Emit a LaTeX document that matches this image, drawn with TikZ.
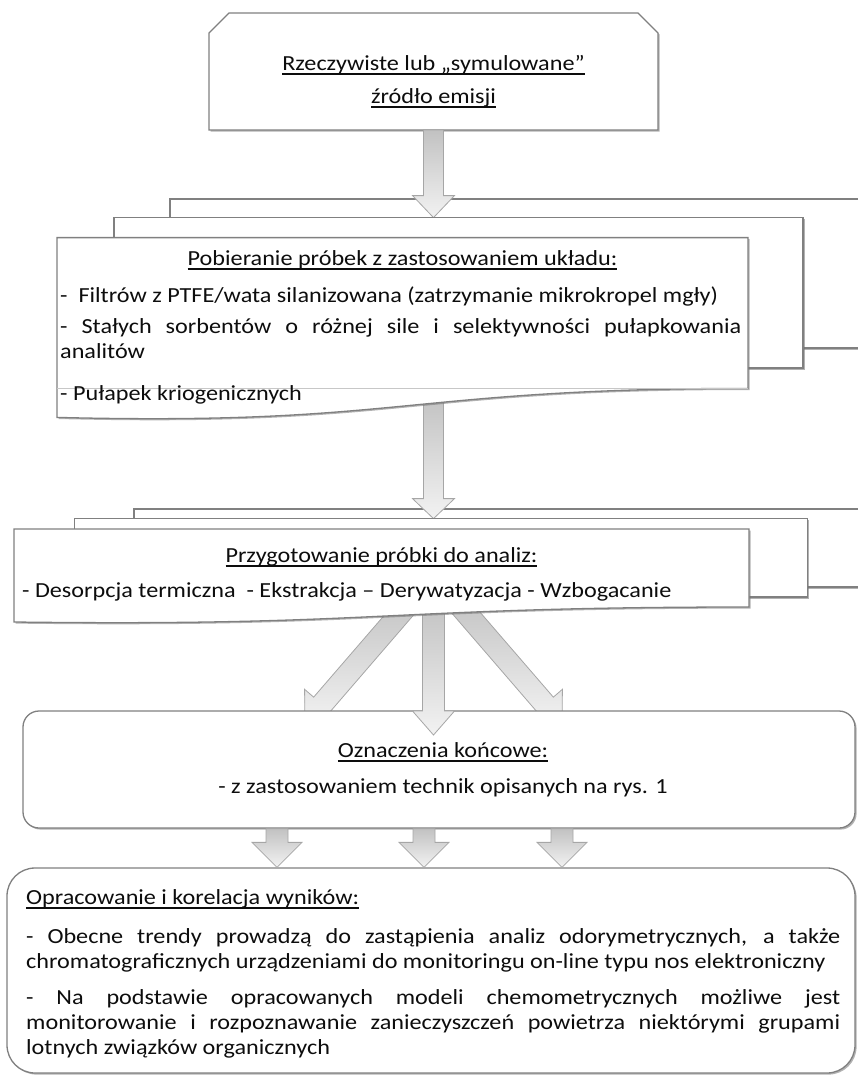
\documentclass[tikz,border=0pt]{standalone}
\usepackage{fontspec}
\setmainfont{Carlito}[FakeStretch=1.125]
\usetikzlibrary{calc,shadows}
\newcommand\undl[1]{\leavevmode\setbox0=\hbox{#1}\rlap{\rule[-4.5pt]{\wd0}{1.2pt}}\box0}
% block arrow: #1 from, #2 to, #3 half shaft, #4 half head, #5 head length
\newcommand\blockarrow[5]{%
  \path (#1) coordinate (bas) (#2) coordinate (bae);
  \path ($(bae)!#5!(bas)$) coordinate (bah);
  \draw[bigarrow] ($(bas)!#3!90:(bae)$) -- ($(bah)!#3!90:(bae)$) -- ($(bah)!#4!90:(bae)$)
    -- (bae) -- ($(bah)!#4!-90:(bae)$) -- ($(bah)!#3!-90:(bae)$) -- ($(bas)!#3!-90:(bae)$) -- cycle;}
\tikzset{
  txt/.style={inner sep=0pt, font=\fontsize{21.5}{25}\selectfont, text=black!95},
  doc/.style={draw=black!50, line width=1.3pt, fill=white,
    drop shadow={shadow xshift=1.6pt, shadow yshift=-1.6pt, fill=black!55, opacity=.55}},
  faint/.style={draw=black!22, line width=0.5pt},
  bigarrow/.style={draw=black!35, line width=0.8pt, top color=black!24, bottom color=black!5},
  anchorbox/.style={inner sep=0pt, outer sep=0pt}
}
\begin{document}
\begin{tikzpicture}[x=1pt,y=-1pt]
\useasboundingbox (0,0) rectangle (857,1079);
% back documents
\filldraw[doc] (170,199) rectangle (864,348);
\filldraw[doc] (134,509) rectangle (868,587);
% source box
\node[anchorbox, minimum width=449pt, minimum height=117pt] (src) at (433.5,71.5) {};
\filldraw[doc] (src.south west) -- ($(src.north west)+(0,20)$) -- ($(src.north west)+(20,0)$)
  -- ($(src.north east)+(-20,0)$) -- ($(src.north east)+(0,20)$) -- (src.south east) -- cycle;
% arrow end points
\coordinate (a1e) at (433.5,217.6);
\coordinate (a2s) at (433.5,395);
\coordinate (a2e) at (433.5,518.6);
\coordinate (a3s) at (433.5,600);
\coordinate (a3sl) at (412,600);
\coordinate (a3sr) at (455,600);
\coordinate (a3le) at (305,724);
\coordinate (a3re) at (562,724);
\coordinate (a3ce) at (433.5,735);
\blockarrow{src.south}{a1e}{10pt}{21pt}{22pt}
\blockarrow{a2s}{a2e}{10pt}{21pt}{20pt}
\blockarrow{a3sl}{a3le}{11pt}{23pt}{26pt}
\blockarrow{a3sr}{a3re}{11pt}{23pt}{26pt}
% determination box
\node[doc, rounded corners=16pt, minimum width=832pt, minimum height=117pt] (ozn) at (439,769.5) {};
\blockarrow{a3s}{a3ce}{11pt}{21pt}{24pt}
% middle and front documents
\filldraw[doc] (114,217.6) rectangle (803,368);
\filldraw[doc] (74.5,518.6) rectangle (807.5,597);
\filldraw[doc] (57,237.6) -- (748,237.6) -- (748,388.4) .. controls (402.7,388.4) and (402.7,426) .. (57,417.4) -- cycle;
\draw[faint] (57,388.4) -- (748,388.4);
\filldraw[doc] (14,529) -- (749,529) -- (749,607) .. controls (381.5,607) and (381.5,626.5) .. (14,622) -- cycle;
% results box
\node[doc, rounded corners=28pt, minimum width=848pt, minimum height=205pt] (res) at (431,970.5) {};
% small arrows
\coordinate (x1) at (277,0);
\coordinate (x2) at (424,0);
\coordinate (x3) at (562,0);
\blockarrow{ozn.south -| x1}{res.north -| x1}{11pt}{25pt}{25pt}
\blockarrow{ozn.south -| x2}{res.north -| x2}{11pt}{25pt}{25pt}
\blockarrow{ozn.south -| x3}{res.north -| x3}{11pt}{25pt}{25pt}
% texts
\node[txt, anchor=base] (t1) at (433.5,70) {\undl{Rzeczywiste lub „symulowane”}};
\node[txt, anchor=base] (t2) at (433.5,103) {\undl{źródło emisji}};
\node[txt, anchor=base] (t3) at (402.5,265) {\undl{Pobieranie próbek z zastosowaniem układu:}};
\node[txt, anchor=base west] (t4) at (60,302) {- \ Filtrów z PTFE/wata silanizowana (zatrzymanie mikrokropel mgły)};
\node[txt, anchor=base west] (t5) at (60,333) {\makebox[681pt][s]{- Stałych sorbentów o różnej sile i selektywności pułapkowania}};
\node[txt, anchor=base west] (t6) at (60,358) {analitów};
\node[txt, anchor=base west] (t7) at (60,400) {- Pułapek kriogenicznych};
\node[txt, anchor=base] (t8) at (381.5,562) {\undl{Przygotowanie próbki do analiz:}};
\node[txt, anchor=base west] (t9) at (22,597) {- Desorpcja termiczna \ - Ekstrakcja – Derywatyzacja - Wzbogacanie};
\node[txt, anchor=base] (t10) at (443,757) {\undl{Oznaczenia końcowe:}};
\node[txt, anchor=base] (t11) at (443,793) {- z zastosowaniem technik opisanych na rys. 1};
\node[txt, anchor=base west] (t12) at (26,904) {\undl{Opracowanie i korelacja wyników:}};
\node[txt, anchor=base west] (t13) at (26,943) {\makebox[814pt][s]{- Obecne trendy prowadzą do zastąpienia analiz odorymetrycznych, a także}};
\node[txt, anchor=base west] (t14) at (26,968) {chromatograficznych urządzeniami do monitoringu on-line typu nos elektroniczny};
\node[txt, anchor=base west] (t15) at (26,1004) {\makebox[814pt][s]{- Na podstawie opracowanych modeli chemometrycznych możliwe jest}};
\node[txt, anchor=base west] (t16) at (26,1029) {\makebox[814pt][s]{monitorowanie i rozpoznawanie zanieczyszczeń powietrza niektórymi grupami}};
\node[txt, anchor=base west] (t17) at (26,1054) {lotnych związków organicznych};
\end{tikzpicture}
\end{document}
